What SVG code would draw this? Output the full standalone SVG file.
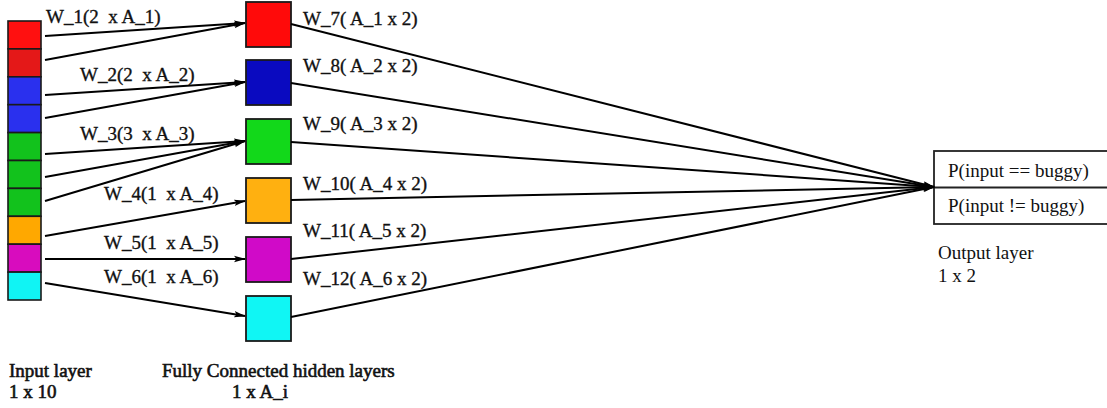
<svg xmlns="http://www.w3.org/2000/svg" width="1107" height="408" viewBox="0 0 1107 408">
  <style>
    .cell { stroke: #1a1a1a; stroke-width: 1.6; }
    .node { stroke: #1a1a1a; stroke-width: 1.8; }
    .edge { stroke: #000; stroke-width: 2; fill: none; marker-end: url(#arrow); }
    .lbl { font-size: 19px; }
    .heavy { stroke: #111; stroke-width: 0.35; }
    .heavier { stroke: #111; stroke-width: 0.6; }
  </style>
  <defs>
    <marker id="arrow" viewBox="0 0 12 8" refX="11" refY="4" markerWidth="12" markerHeight="8" markerUnits="userSpaceOnUse" orient="auto">
      <path d="M0,0.8 L12,4 L0,7.2 L2.5,4 Z" fill="#000"/>
    </marker>
  </defs>

  <rect width="1107" height="408" fill="#fff"/>

  <!-- input layer: ten stacked cells -->
  <g id="input-layer">
    <rect class="cell" x="8" y="21" width="33" height="27.9" fill="#ff1010"/>
    <rect class="cell" x="8" y="48.9" width="33" height="27.9" fill="#e41818"/>
    <rect class="cell" x="8" y="76.8" width="33" height="27.9" fill="#2a30ee"/>
    <rect class="cell" x="8" y="104.7" width="33" height="27.9" fill="#2a30ee"/>
    <rect class="cell" x="8" y="132.6" width="33" height="27.9" fill="#12c21c"/>
    <rect class="cell" x="8" y="160.5" width="33" height="27.9" fill="#12c21c"/>
    <rect class="cell" x="8" y="188.4" width="33" height="27.9" fill="#12c21c"/>
    <rect class="cell" x="8" y="216.3" width="33" height="27.9" fill="#ffa800"/>
    <rect class="cell" x="8" y="244.2" width="33" height="27.9" fill="#d80cbe"/>
    <rect class="cell" x="8" y="272.1" width="33" height="27.9" fill="#10f4f4"/>
  </g>

  <!-- hidden layer nodes -->
  <g id="hidden-1"><rect class="node" x="246" y="2" width="45" height="45" fill="#ff0a0a"/></g>
  <g id="hidden-2"><rect class="node" x="246" y="60" width="45" height="45" fill="#0a0ac0"/></g>
  <g id="hidden-3"><rect class="node" x="246" y="119" width="45" height="45" fill="#12d81a"/></g>
  <g id="hidden-4"><rect class="node" x="246" y="178" width="45" height="45" fill="#ffb010"/></g>
  <g id="hidden-5"><rect class="node" x="246" y="237" width="45" height="45" fill="#d00ac8"/></g>
  <g id="hidden-6"><rect class="node" x="246" y="296" width="45" height="45" fill="#10f6f4"/></g>

  <g font-family="'Liberation Serif', 'Times New Roman', serif" fill="#111">
    <!-- output layer -->
    <g id="output-layer">
      <rect x="934" y="151" width="190" height="73" fill="#fff" stroke="#222" stroke-width="1.8"/>
      <line x1="934" y1="187.5" x2="1107" y2="187.5" stroke="#222" stroke-width="1.8"/>
      <text class="lbl" x="948" y="177">P(input == buggy)</text>
      <text class="lbl" x="948" y="212">P(input != buggy)</text>
    </g>

    <!-- weight labels -->
    <g id="weight-labels" class="heavy">
      <text class="lbl" x="46" y="23" xml:space="preserve">W_1(2  x A_1)</text>
      <text class="lbl" x="80" y="81" xml:space="preserve">W_2(2  x A_2)</text>
      <text class="lbl" x="80" y="140" xml:space="preserve">W_3(3  x A_3)</text>
      <text class="lbl" x="104" y="200" xml:space="preserve">W_4(1  x A_4)</text>
      <text class="lbl" x="104" y="249" xml:space="preserve">W_5(1  x A_5)</text>
      <text class="lbl" x="104" y="283" xml:space="preserve">W_6(1  x A_6)</text>

      <text class="lbl" x="303" y="25">W_7( A_1 x 2)</text>
      <text class="lbl" x="303" y="72">W_8( A_2 x 2)</text>
      <text class="lbl" x="303" y="130">W_9( A_3 x 2)</text>
      <text class="lbl" x="303" y="190">W_10( A_4 x 2)</text>
      <text class="lbl" x="303" y="237">W_11( A_5 x 2)</text>
      <text class="lbl" x="303" y="285">W_12( A_6 x 2)</text>
    </g>

    <!-- layer captions -->
    <g id="captions">
      <text class="lbl heavier" x="9" y="377">Input layer</text>
      <text class="lbl heavier" x="9" y="398">1 x 10</text>
      <text class="lbl heavier" x="162" y="377">Fully Connected hidden layers</text>
      <text class="lbl heavier" x="232" y="398">1 x A_i</text>
      <text class="lbl" x="938" y="259">Output layer</text>
      <text class="lbl" x="938" y="282">1 x 2</text>
    </g>
  </g>

  <!-- connectors -->
  <g id="connectors">
    <line class="edge" x1="45" y1="36" x2="245" y2="23"/>
    <line class="edge" x1="45" y1="60" x2="245" y2="23"/>
    <line class="edge" x1="45" y1="95" x2="245" y2="82"/>
    <line class="edge" x1="45" y1="118" x2="245" y2="82"/>
    <line class="edge" x1="45" y1="154" x2="245" y2="141"/>
    <line class="edge" x1="45" y1="177" x2="245" y2="141"/>
    <line class="edge" x1="45" y1="201" x2="245" y2="141"/>
    <line class="edge" x1="45" y1="236" x2="245" y2="201"/>
    <line class="edge" x1="45" y1="259" x2="245" y2="259"/>
    <line class="edge" x1="45" y1="283" x2="245" y2="316"/>

    <line class="edge" x1="291" y1="24" x2="934" y2="187"/>
    <line class="edge" x1="291" y1="83" x2="934" y2="187"/>
    <line class="edge" x1="291" y1="142" x2="934" y2="187"/>
    <line class="edge" x1="291" y1="200" x2="934" y2="187"/>
    <line class="edge" x1="291" y1="259" x2="934" y2="187"/>
    <line class="edge" x1="291" y1="317" x2="934" y2="187"/>
  </g>
</svg>
